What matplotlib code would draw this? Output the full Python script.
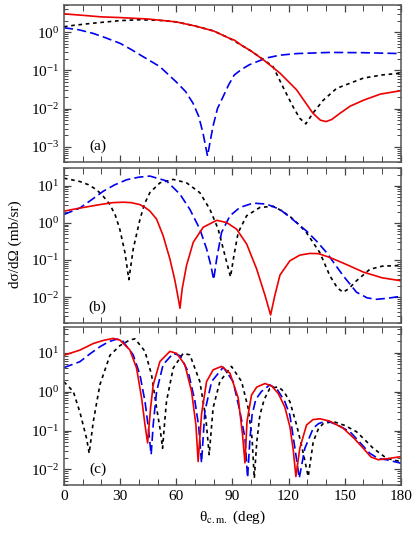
import numpy as np
import matplotlib
matplotlib.use("Agg")
from matplotlib import pyplot as plt
from matplotlib.ticker import LogLocator, MultipleLocator, NullFormatter

plt.rcParams['font.family'] = ['Liberation Serif', 'DejaVu Serif']
plt.rcParams['mathtext.fontset'] = 'stix'
plt.rcParams['font.size'] = 11

# panel (a)
a_red_x = [0, 10, 20, 30, 45, 60, 70, 80, 88.7, 91, 95, 100, 106.5, 115.4, 124.3, 133, 137, 140, 143, 147.5, 153, 160, 169, 180]
a_red_y = [3.0, 2.75, 2.5, 2.4, 2.2, 1.85, 1.45, 1.07, 0.68, 0.62, 0.45, 0.32, 0.19, 0.085, 0.031, 0.0076, 0.005, 0.0046, 0.0052, 0.0076, 0.0117, 0.0166, 0.024, 0.0295]
a_blk_x = [0, 5, 15, 30, 40, 50, 60, 70, 80, 88.7, 95, 100, 106, 111.7, 117, 122.4, 126, 129.2, 133, 138.5, 145.7, 160, 170, 180]
a_blk_y = [1.38, 1.5, 1.7, 2.0, 2.1, 2.05, 1.85, 1.45, 1.07, 0.68, 0.45, 0.32, 0.2, 0.126, 0.037, 0.0112, 0.0056, 0.004, 0.0076, 0.0166, 0.034, 0.063, 0.076, 0.085]
a_blu_x = [0, 8, 15.5, 22, 30, 36, 42.2, 51.2, 60, 65, 69, 72, 74.3, 76.7, 79.6, 82, 85, 88, 91, 95, 99, 108, 115.4, 124.3, 142, 160, 180]
a_blu_y = [1.3, 1.15, 0.93, 0.72, 0.51, 0.35, 0.23, 0.126, 0.05, 0.028, 0.0138, 0.0063, 0.0023, 0.00058, 0.0034, 0.01, 0.0204, 0.042, 0.076, 0.107, 0.14, 0.21, 0.25, 0.275, 0.295, 0.29, 0.275]

# panel (b)
b_red_x = [0, 8.5, 19.2, 26, 31.7, 36, 40.6, 43.3, 45.9, 49.5, 53, 56.6, 59.3, 61.1, 62, 63.2, 65.5, 69.1, 74.4, 81.6, 86.9, 92.2, 97.6, 102.9, 107.4, 110.4, 112.7, 115.4, 120.7, 126, 131.4, 136, 142, 150, 160, 170, 180]
b_red_y = [2.07, 2.5, 3.1, 3.5, 3.6, 3.5, 3.1, 2.6, 2.09, 1.26, 0.45, 0.107, 0.028, 0.0091, 0.005, 0.017, 0.071, 0.30, 0.76, 1.17, 1.02, 0.68, 0.27, 0.058, 0.0112, 0.0033, 0.0112, 0.039, 0.095, 0.135, 0.15, 0.148, 0.117, 0.079, 0.047, 0.033, 0.0275]
b_blu_x = [0, 8.5, 14.8, 21, 27, 33.5, 40, 45.9, 54.8, 62, 67.3, 72.6, 76.2, 78.5, 80, 81.6, 84.2, 88.7, 94, 101.1, 108.3, 115.4, 122, 129.6, 135, 140.3, 149.1, 156.3, 162, 167, 173, 180]
b_blu_y = [1.68, 2.5, 4.2, 7.1, 10.5, 14.5, 17, 18.2, 13.5, 5.9, 2.3, 0.68, 0.2, 0.071, 0.0295, 0.107, 0.55, 1.55, 2.6, 3.4, 3.2, 2.3, 1.26, 0.6, 0.32, 0.158, 0.038, 0.0135, 0.0095, 0.0087, 0.0093, 0.0105]
b_blk_x = [0, 8.5, 13, 17.5, 21, 24.6, 27.5, 29.9, 32.6, 34.7, 37, 40.6, 43, 45.9, 51.3, 58.4, 65.5, 72.6, 78, 82.4, 85.1, 87.4, 89, 90.8, 93.1, 97.6, 104.7, 111.8, 115, 120.7, 125, 129.6, 136.7, 142, 146, 149.1, 152, 156.3, 163.4, 170, 180]
b_blk_y = [16, 13, 10.7, 7.8, 5.2, 3.1, 1.58, 0.66, 0.158, 0.0295, 0.195, 1.23, 3.2, 6.5, 12, 14.8, 12, 6.5, 2.3, 0.68, 0.2, 0.071, 0.035, 0.13, 0.55, 1.55, 2.6, 2.8, 2.3, 1.5, 0.95, 0.54, 0.158, 0.038, 0.0178, 0.0135, 0.0166, 0.0275, 0.056, 0.068, 0.071]

# panel (c)
c_red_x = [0, 8.5, 15.7, 21, 26.3, 29.9, 35.2, 38.8, 41.5, 43.3, 44.7, 46.3, 47.7, 51.3, 56.6, 60.2, 64.6, 68.2, 70.5, 71.7, 73.5, 76.2, 79.7, 84.2, 88.7, 93.1, 95.4, 96.7, 97.8, 100.2, 103, 107.4, 111, 114.5, 118, 120.7, 122.5, 123.9, 126, 129.6, 133, 136.7, 142, 149.1, 155, 159.9, 164, 167.9, 173, 180]
c_red_y = [8.5, 11.5, 17, 20.4, 23, 20.9, 11.7, 4.0, 0.68, 0.141, 0.048, 0.38, 1.48, 5.9, 10.7, 9.5, 4.9, 1.0, 0.141, 0.016, 0.26, 1.8, 3.6, 4.4, 2.95, 0.68, 0.079, 0.0148, 0.17, 0.81, 1.3, 1.6, 1.38, 0.89, 0.4, 0.126, 0.032, 0.0066, 0.035, 0.138, 0.19, 0.2, 0.174, 0.115, 0.063, 0.035, 0.021, 0.0178, 0.019, 0.0214]
c_blu_x = [0, 8.5, 14, 19.2, 24, 28.1, 31, 37, 40.6, 43.3, 45.1, 46.6, 47.7, 49.5, 53, 58.4, 62, 66.4, 70, 72, 73.5, 75.3, 78.9, 85.1, 90.4, 94, 96.7, 98.1, 99.4, 100.5, 102.5, 105.5, 110, 114, 118, 120.7, 123.4, 125.7, 128.7, 133.2, 136, 140.3, 146, 152.8, 158, 163.4, 168, 172.3, 180]
c_blu_y = [4.1, 5.8, 9.3, 14, 19, 21.9, 20.9, 8.7, 2.7, 0.56, 0.117, 0.024, 0.141, 1.0, 4.9, 9.5, 8.3, 3.2, 0.56, 0.126, 0.0148, 0.31, 1.8, 4.2, 1.8, 0.31, 0.065, 0.0062, 0.063, 0.25, 0.63, 1.0, 1.48, 1.12, 0.55, 0.25, 0.035, 0.006, 0.035, 0.115, 0.15, 0.178, 0.14, 0.093, 0.05, 0.026, 0.019, 0.0178, 0.0145]
c_blk_x = [0, 3, 5, 8.5, 12.1, 13.5, 15.7, 19.2, 24.6, 29.9, 35.2, 38, 43.3, 46.8, 49.5, 51.5, 52.7, 53.8, 54.8, 58.4, 63.7, 67.3, 72.6, 75.8, 77.6, 79.7, 83.3, 89.5, 94.9, 98.4, 100.5, 101.7, 103, 104.7, 107, 110, 114.5, 117.5, 120.7, 124.3, 127, 130.5, 133.2, 136, 138.5, 143.8, 150, 156.3, 161, 165.2, 172.3, 180]
c_blk_y = [1.78, 1.26, 1.0, 0.3, 0.063, 0.026, 0.17, 1.48, 8.5, 15, 21, 22.4, 10.7, 2.7, 0.38, 0.1, 0.035, 0.16, 0.56, 4.0, 9.5, 8.7, 1.8, 0.21, 0.024, 0.38, 1.8, 4.4, 1.8, 0.38, 0.063, 0.006, 0.05, 0.25, 0.63, 1.2, 1.32, 1.0, 0.55, 0.138, 0.04, 0.0066, 0.052, 0.112, 0.15, 0.17, 0.135, 0.093, 0.056, 0.035, 0.0195, 0.0158]

panel_labels = ["(a)", "(b)", "(c)"]
ylims = [(4e-4, 5), (2e-3, 30), (4e-3, 45)]

fig = plt.figure(figsize=(4.15, 5.37), dpi=100)
# axes boxes in figure fractions (left, bottom, width, height)
boxes = [(0.154, 0.698, 0.812, 0.292),
         (0.154, 0.3985, 0.812, 0.2886),
         (0.154, 0.0968, 0.812, 0.2942)]

data = [
    [(a_blk_x, a_blk_y), (a_blu_x, a_blu_y), (a_red_x, a_red_y)],
    [(b_blk_x, b_blk_y), (b_blu_x, b_blu_y), (b_red_x, b_red_y)],
    [(c_blk_x, c_blk_y), (c_blu_x, c_blu_y), (c_red_x, c_red_y)],
]

axes = []
for i in range(3):
    ax = fig.add_axes(boxes[i])
    blk, blu, red = data[i]
    ax.plot(blk[0], blk[1], color='black', lw=1.2, dashes=(2.2, 2.2))
    ax.plot(blu[0], blu[1], color='#0000ee', lw=1.2, dashes=(5.5, 2.5))
    ax.plot(red[0], red[1], color='#ee0000', lw=1.2)
    ax.set_yscale('log')
    ax.set_xlim(0, 180)
    ax.set_ylim(*ylims[i])
    ax.xaxis.set_major_locator(MultipleLocator(30))
    ax.xaxis.set_minor_locator(MultipleLocator(10))
    ax.yaxis.set_major_locator(LogLocator(base=10, numticks=10))
    ax.yaxis.set_minor_locator(LogLocator(base=10, subs=np.arange(2, 10), numticks=20))
    ax.yaxis.set_minor_formatter(NullFormatter())
    ax.tick_params(which='both', direction='in', top=True, right=True, color='#444444')
    ax.tick_params(which='major', length=5, width=0.9, labelsize=11)
    ax.tick_params(which='minor', length=2.8, width=0.7)
    ax.tick_params(axis='x', which='minor', length=4.5)
    for s in ax.spines.values():
        s.set_color('#555555')
        s.set_linewidth(1.1)
    if i < 2:
        ax.set_xticklabels([])
    ax.text(0.10, 0.10, panel_labels[i], transform=ax.transAxes, fontsize=11,
            ha='center', va='center')
    axes.append(ax)

axes[2].set_xlabel('θ$_{\\rm c.m.}$ (deg)', fontsize=11, labelpad=4)
fig.text(0.036, 0.545, 'dσ/dΩ (mb/sr)', rotation=90, fontsize=11, ha='center', va='center')

fig.savefig('out.png', dpi=100)
